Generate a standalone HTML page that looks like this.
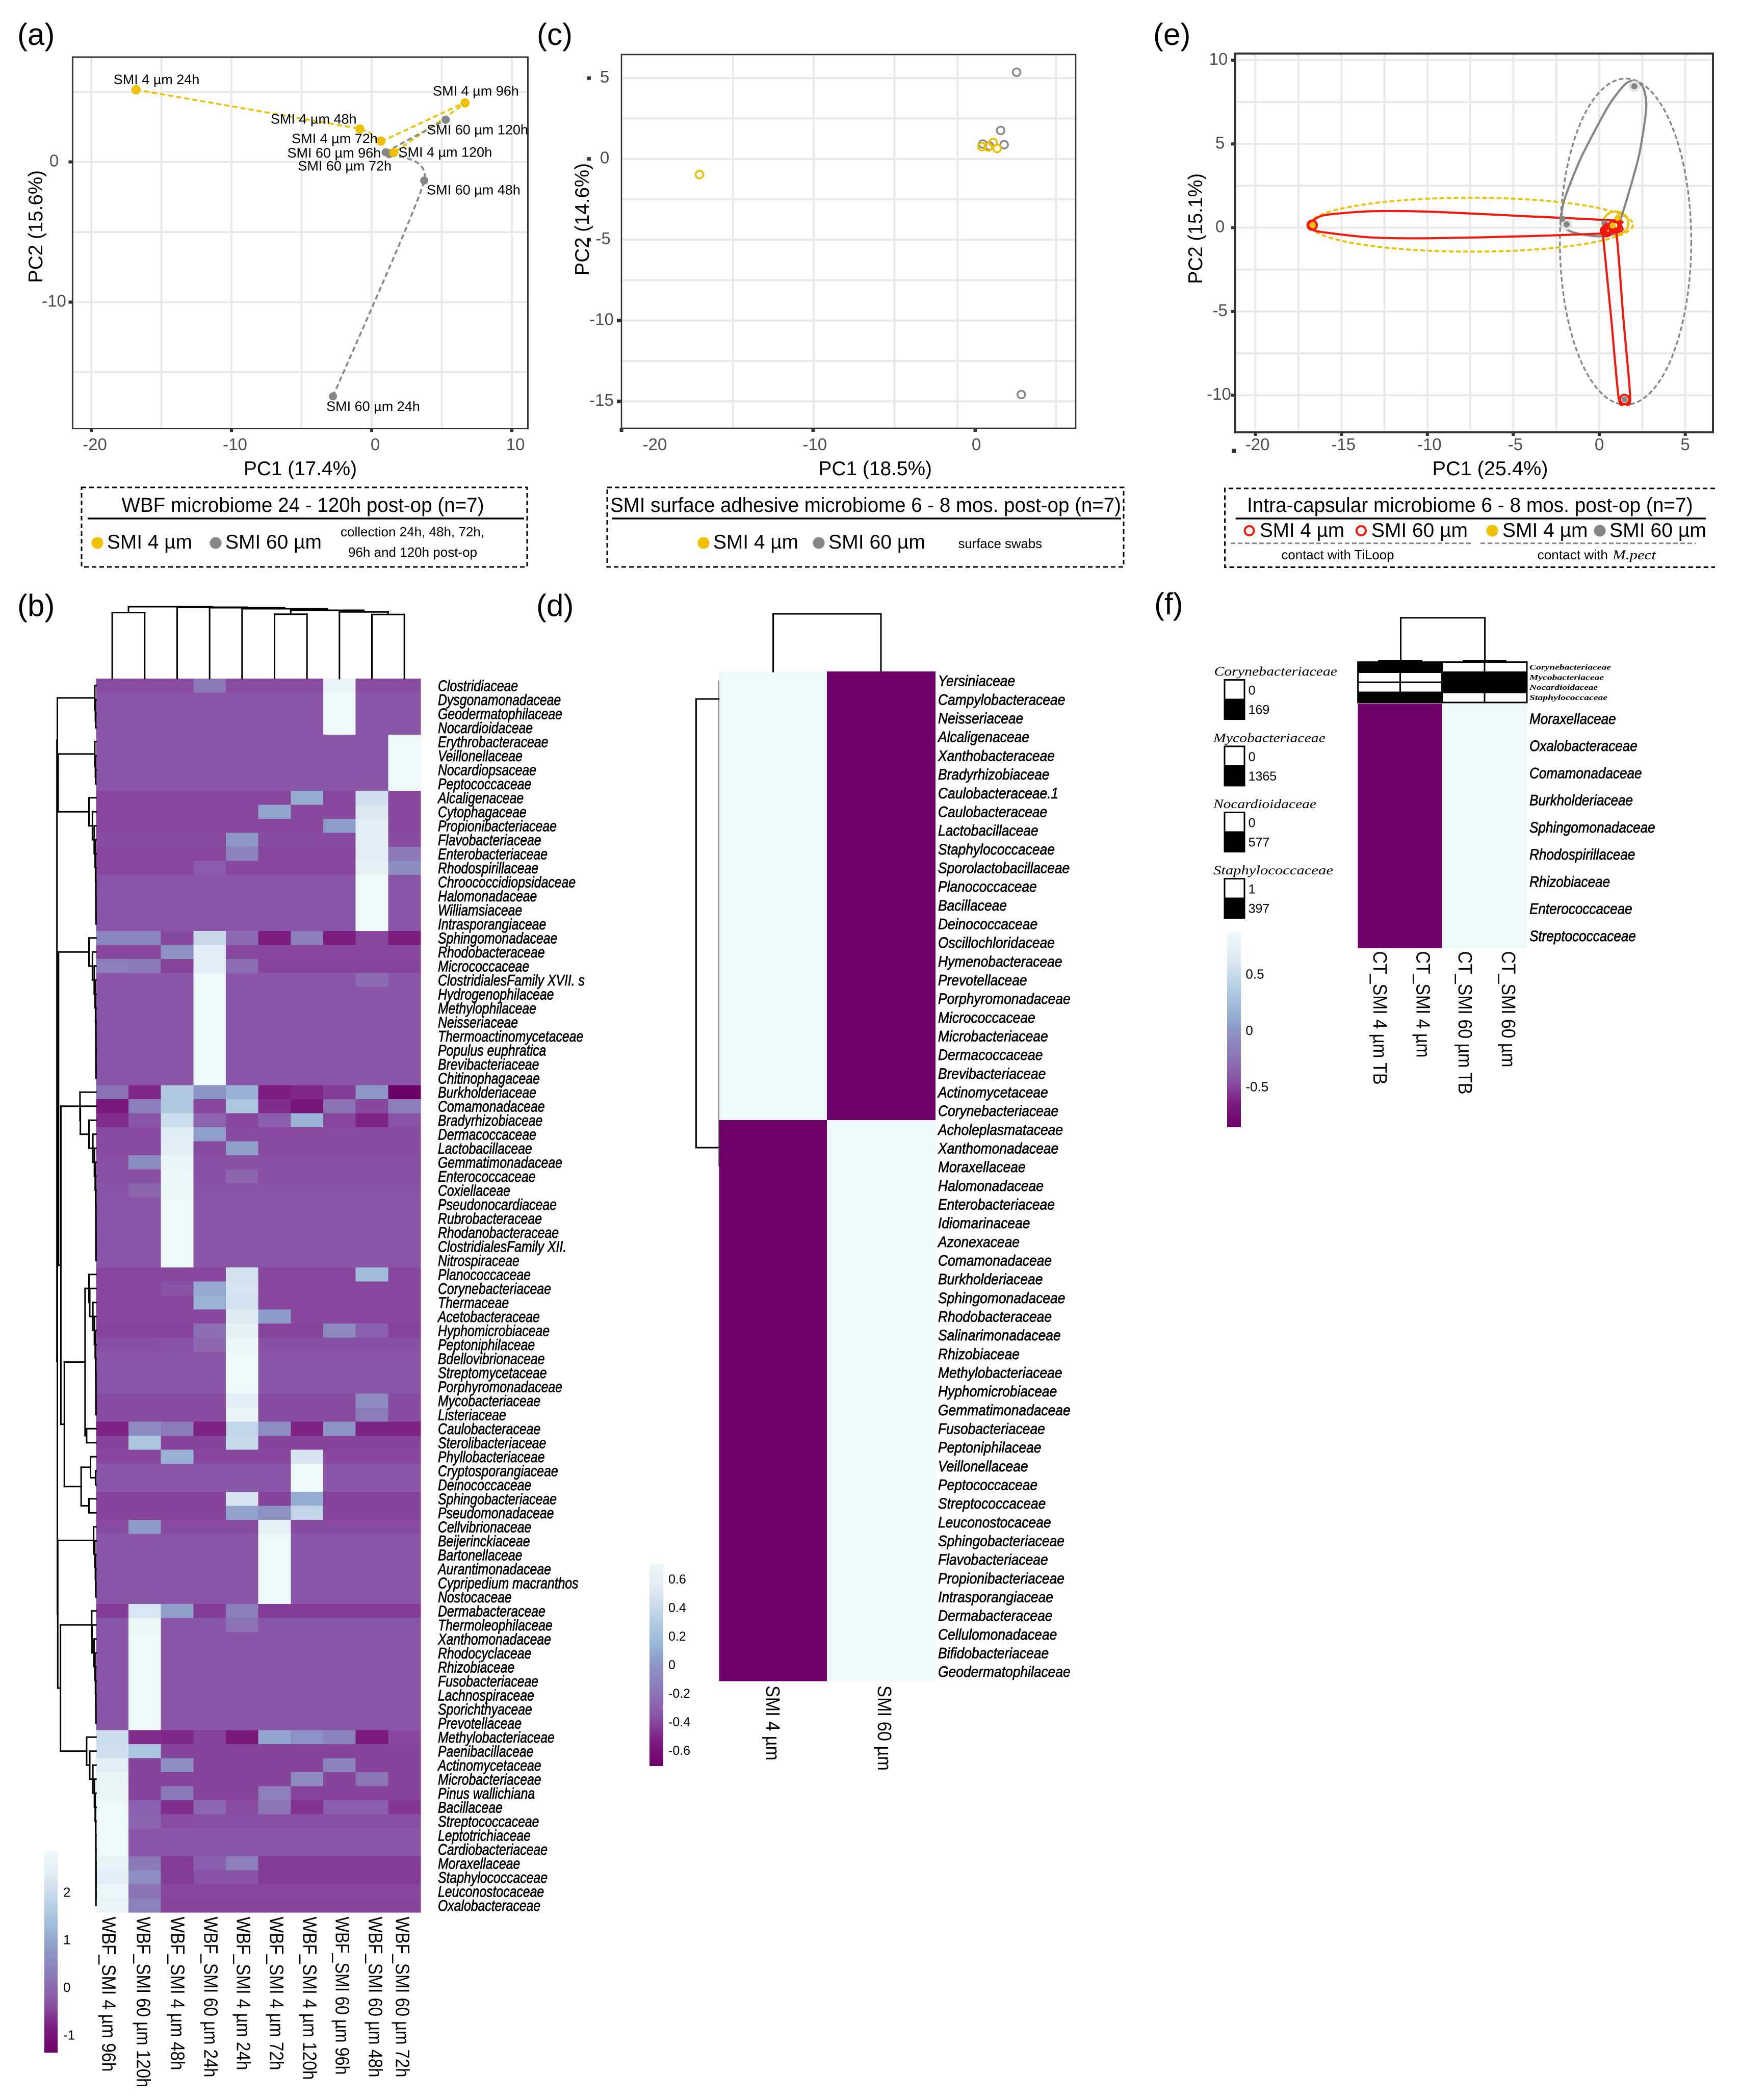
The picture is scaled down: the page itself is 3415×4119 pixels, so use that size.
<!DOCTYPE html>
<html lang="en">
<head>
<meta charset="utf-8">
<title>Microbiome PCA and heatmap figure</title>
<style>
html,body{margin:0;padding:0;background:#fff;}
svg{display:block;}
text{font-family:"Liberation Sans",sans-serif;}
</style>
</head>
<body>
<svg id="figure" xmlns="http://www.w3.org/2000/svg" width="3415" height="4119" viewBox="0 0 3415 4119">
<rect x="0" y="0" width="3415" height="4119" fill="#fff"/>
</svg>
<script>
/* ---------- PANEL A DATA ---------- */
const aYellowNames = ["SMI 4 µm 24h","SMI 4 µm 48h","SMI 4 µm 72h","SMI 4 µm 96h","SMI 4 µm 120h"];
const aYellowPC1 = [-16.81,-0.84,0.66,6.66,1.58];
const aYellowPC2 = [5.15,2.35,1.49,4.21,0.67];
const aGrayNames = ["SMI 60 µm 24h","SMI 60 µm 48h","SMI 60 µm 72h","SMI 60 µm 96h","SMI 60 µm 120h"];
const aGrayPC1 = [-2.76,3.75,1.25,1.0,5.28];
const aGrayPC2 = [-16.72,-1.33,0.56,0.69,3.01];
const aTicksX = [-20,-10,0,10];
const aTicksY = [0,-10];
const aGridX = [-20,-15,-10,-5,0,5,10];
const aGridY = [5,0,-5,-10,-15];

/* ---------- PANEL C DATA ---------- */
const cYellowPC1 = [-17.08,0.41,1.11,1.35,0.8];
const cYellowPC2 = [-0.97,0.76,1.02,0.65,0.74];
const cGrayPC1 = [2.56,2.85,1.57,1.79,0.87,0.46];
const cGrayPC2 = [5.36,-14.58,1.76,0.88,0.81,0.92];
const cTicksX = [-20,-10,0];
const cTicksY = [5,0,-5,-10,-15];
const cGridX = [-15,-10,-5,-1.1,5];
const cGridY = [5,2.5,0,-2.5,-5,-7.5,-10,-12.5,-15];

/* ---------- PANEL E DATA ---------- */
const eTicksX = [-20,-15,-10,-5,0,5];
const eTicksY = [10,5,0,-5,-10];
const eGridX = [-20,-17.5,-15,-12.5,-10,-7.5,-5,-2.5,0,2.5,5];
const eGridY = [10,7.5,5,2.5,0,-2.5,-5,-7.5,-10];
const eRedPC1 = [-16.7,1.47,0.89,0.4,0.55,0.95];
const eRedPC2 = [0.15,-10.25,0.13,-0.2,-0.07,0.1];
const eYellowPC1 = [-16.68,0.78,1.07];
const eYellowPC2 = [0.15,0.13,0.58];
const eGrayPC1 = [2.04,-1.9,0.3,1.47,-2.15];
const eGrayPC2 = [8.44,0.2,0.27,-10.25,0.53];
const eHullRedA = [[-16.93,0.16],[-16.67,0.42],[-15.93,0.76],[-13.27,0.98],[-9.93,0.96],[-4.38,0.69],[0.96,0.42],[1.22,0.2],[0.96,-0.29],[-4.38,-0.51],[-9.93,-0.63],[-13.27,-0.58],[-15.93,-0.29],[-16.67,-0.13]];
const eHullRedB = [[0.22,-0.47],[0.69,-5.38],[1.13,-10.18],[1.47,-10.51],[1.8,-10.18],[1.4,-5.38],[1.0,-0.36],[0.62,-0.07],[0.24,-0.2]];
const eHullGray = [[-2.22,0.42],[-2.16,0.09],[-1.49,-0.29],[-0.16,-0.51],[0.84,-0.36],[1.29,0.65],[2.29,4.22],[2.73,7.12],[2.56,8.35],[2.07,8.75],[1.51,8.57],[0.51,7.23],[-1.04,4.22],[-2.04,1.65]];
const eEllipseGray = [1.53,-0.83,3.82,9.73];
const eEllipseYellow = [-7.44,0.18,9.4,1.61];
const eEllipseSmall = [0.96,0.27,0.73,0.7];

/* ---------- PANEL B DATA ---------- */
const bColumns = ["WBF_SMI 4 µm 96h","WBF_SMI 60 µm 120h","WBF_SMI 4 µm 48h","WBF_SMI 60 µm 24h","WBF_SMI 4 µm 24h","WBF_SMI 4 µm 72h","WBF_SMI 4 µm 120h","WBF_SMI 60 µm 96h","WBF_SMI 60 µm 48h","WBF_SMI 60 µm 72h"];
const bRows = ["Clostridiaceae","Dysgonamonadaceae","Geodermatophilaceae","Nocardioidaceae","Erythrobacteraceae","Veillonellaceae","Nocardiopsaceae","Peptococcaceae","Alcaligenaceae","Cytophagaceae","Propionibacteriaceae","Flavobacteriaceae","Enterobacteriaceae","Rhodospirillaceae","Chroococcidiopsidaceae","Halomonadaceae","Williamsiaceae","Intrasporangiaceae","Sphingomonadaceae","Rhodobacteraceae","Micrococcaceae","ClostridialesFamily XVII. s","Hydrogenophilaceae","Methylophilaceae","Neisseriaceae","Thermoactinomycetaceae","Populus euphratica","Brevibacteriaceae","Chitinophagaceae","Burkholderiaceae","Comamonadaceae","Bradyrhizobiaceae","Dermacoccaceae","Lactobacillaceae","Gemmatimonadaceae","Enterococcaceae","Coxiellaceae","Pseudonocardiaceae","Rubrobacteraceae","Rhodanobacteraceae","ClostridialesFamily XII.","Nitrospiraceae","Planococcaceae","Corynebacteriaceae","Thermaceae","Acetobacteraceae","Hyphomicrobiaceae","Peptoniphilaceae","Bdellovibrionaceae","Streptomycetaceae","Porphyromonadaceae","Mycobacteriaceae","Listeriaceae","Caulobacteraceae","Sterolibacteriaceae","Phyllobacteriaceae","Cryptosporangiaceae","Deinococcaceae","Sphingobacteriaceae","Pseudomonadaceae","Cellvibrionaceae","Beijerinckiaceae","Bartonellaceae","Aurantimonadaceae","Cypripedium macranthos","Nostocaceae","Dermabacteraceae","Thermoleophilaceae","Xanthomonadaceae","Rhodocyclaceae","Rhizobiaceae","Fusobacteriaceae","Lachnospiraceae","Sporichthyaceae","Prevotellaceae","Methylobacteriaceae","Paenibacillaceae","Actinomycetaceae","Microbacteriaceae","Pinus wallichiana","Bacillaceae","Streptococcaceae","Leptotrichiaceae","Cardiobacteriaceae","Moraxellaceae","Staphylococcaceae","Leuconostocaceae","Oxalobacteraceae"];
const b = -0.32, H = 2.86, d = -0.45, e5 = -0.5;
const bValues = [
[-.4,-.4,-.4,.2,-.4,-.4,-.4,2.7,-.4,-.4],
[b,b,b,b,b,b,b,H,b,b],
[b,b,b,b,b,b,b,H,b,b],
[b,b,b,b,b,b,b,H,b,b],
[b,b,b,b,b,b,b,b,b,H],
[b,b,b,b,b,b,b,b,b,H],
[b,b,b,b,b,b,b,b,b,H],
[b,b,b,b,b,b,b,b,b,H],
[d,d,d,d,d,d,1.05,d,2.05,d],
[d,d,d,d,d,.95,d,d,2.25,d],
[d,d,d,d,d,d,d,.8,2.4,d],
[-.42,-.42,-.42,-.42,.75,-.42,-.42,-.42,2.45,-.42],
[d,d,d,d,.35,d,d,d,2.45,.2],
[d,d,d,-.25,d,d,d,d,2.5,.55],
[b,b,b,b,b,b,b,b,H,b],
[b,b,b,b,b,b,b,b,H,b],
[b,b,b,b,b,b,b,b,H,b],
[b,b,b,b,b,b,b,b,H,b],
[.45,.45,d,1.95,0,-.85,.3,-.85,d,-.85],
[d,d,.65,2.35,d,d,d,d,d,d],
[.3,.2,e5,2.4,.05,e5,e5,e5,e5,e5],
[b,b,b,2.85,b,b,b,b,0,b],
[b,b,b,H,b,b,b,b,b,b],
[b,b,b,H,b,b,b,b,b,b],
[b,b,b,H,b,b,b,b,b,b],
[b,b,b,H,b,b,b,b,b,b],
[b,b,b,H,b,b,b,b,b,b],
[b,b,b,H,b,b,b,b,b,b],
[b,b,b,H,b,b,b,b,b,b],
[.1,-.75,1.55,.7,1.1,-.85,-.75,-.55,.75,-1.38],
[-.95,.3,1.55,d,1.5,-.7,-1,.1,d,.3],
[-.7,-.3,2,-.1,d,-.2,1.15,d,-.8,-.35],
[-.42,-.42,2.35,.85,-.42,-.42,-.42,-.42,-.42,-.42],
[-.42,-.42,2.4,-.42,.85,-.42,-.42,-.42,-.42,-.42],
[-.38,.55,2.7,-.38,-.38,-.38,-.38,-.38,-.38,-.38],
[-.38,-.38,2.75,-.38,-.1,-.38,-.38,-.38,-.38,-.38],
[-.34,-.1,2.8,-.34,-.34,-.34,-.34,-.34,-.34,-.34],
[b,b,H,b,b,b,b,b,b,b],
[b,b,H,b,b,b,b,b,b,b],
[b,b,H,b,b,b,b,b,b,b],
[b,b,H,b,b,b,b,b,b,b],
[b,b,H,b,b,b,b,b,b,b],
[d,d,d,d,2.1,d,d,d,1.3,d],
[d,d,-.35,1,2.15,d,d,d,d,d],
[d,d,d,1.1,2.1,d,d,d,d,d],
[d,d,d,d,2.3,.8,d,d,d,d],
[e5,e5,e5,.05,2.5,e5,e5,.5,-.15,e5],
[-.38,-.38,-.35,-.05,2.75,-.38,-.38,-.38,-.38,-.38],
[b,b,b,b,H,b,b,b,b,b],
[b,b,b,b,H,b,b,b,b,b],
[b,b,b,b,H,b,b,b,b,b],
[-.42,-.42,-.42,-.42,2.4,-.42,-.42,-.42,.55,-.42],
[-.42,-.42,-.42,-.42,2.7,-.42,-.42,-.42,.25,-.42],
[-.8,.55,.25,-.8,1.85,.6,-.8,.7,-.8,-.8],
[e5,1.5,e5,e5,1.95,e5,e5,e5,e5,e5],
[d,d,1.1,d,d,d,2.15,d,d,d],
[b,b,b,b,b,b,H,b,b,b],
[b,b,b,b,b,b,H,b,b,b],
[e5,e5,e5,e5,2.15,e5,1.05,e5,e5,e5],
[e5,e5,e5,e5,.9,.65,1.85,e5,e5,e5],
[-.42,.8,-.42,-.42,-.42,2.5,-.42,-.42,-.42,-.42],
[b,b,b,b,b,H,b,b,b,b],
[b,b,b,b,b,H,b,b,b,b],
[b,b,b,b,b,H,b,b,b,b],
[b,b,b,b,b,H,b,b,b,b],
[b,b,b,b,b,H,b,b,b,b],
[-.55,2.2,.85,-.55,.3,-.55,-.55,-.55,-.55,-.55],
[b,2.8,b,b,.1,b,b,b,b,b],
[b,H,b,b,b,b,b,b,b,b],
[b,H,b,b,b,b,b,b,b,b],
[b,H,b,b,b,b,b,b,b,b],
[b,H,b,b,b,b,b,b,b,b],
[b,H,b,b,b,b,b,b,b,b],
[b,H,b,b,b,b,b,b,b,b],
[b,H,b,b,b,b,b,b,b,b],
[2,-.7,-.75,e5,-.95,.95,.65,.4,-.9,d],
[2.05,1.45,e5,e5,e5,e5,e5,e5,e5,e5],
[2.4,e5,.6,e5,e5,e5,e5,.4,e5,e5],
[2.65,e5,e5,e5,e5,e5,.55,e5,.15,e5],
[2.7,e5,.2,e5,e5,.3,e5,e5,e5,e5],
[2.85,-.15,-.7,-.05,-.4,.15,-.65,-.2,-.2,-.6],
[H,-.1,-.4,-.38,-.38,-.38,-.38,-.38,-.38,-.38],
[H,b,b,b,b,b,b,b,b,b],
[H,b,b,b,b,b,b,b,b,b],
[2.6,.2,-.55,-.2,.3,-.55,-.55,-.55,-.55,-.55],
[2.4,.6,-.55,-.35,-.35,-.55,-.55,-.55,-.55,-.55],
[2.75,.1,d,d,d,d,d,d,d,d],
[2.7,.35,-.48,-.48,-.48,-.48,-.48,-.48,-.48,-.48]
];
const bColorTicks = [2,1,0,-1];

/* ---------- PANEL D DATA ---------- */
const dColumns = ["SMI 4 µm","SMI 60 µm"];
const dRows = ["Yersiniaceae","Campylobacteraceae","Neisseriaceae","Alcaligenaceae","Xanthobacteraceae","Bradyrhizobiaceae","Caulobacteraceae.1","Caulobacteraceae","Lactobacillaceae","Staphylococcaceae","Sporolactobacillaceae","Planococcaceae","Bacillaceae","Deinococcaceae","Oscillochloridaceae","Hymenobacteraceae","Prevotellaceae","Porphyromonadaceae","Micrococcaceae","Microbacteriaceae","Dermacoccaceae","Brevibacteriaceae","Actinomycetaceae","Corynebacteriaceae","Acholeplasmataceae","Xanthomonadaceae","Moraxellaceae","Halomonadaceae","Enterobacteriaceae","Idiomarinaceae","Azonexaceae","Comamonadaceae","Burkholderiaceae","Sphingomonadaceae","Rhodobacteraceae","Salinarimonadaceae","Rhizobiaceae","Methylobacteriaceae","Hyphomicrobiaceae","Gemmatimonadaceae","Fusobacteriaceae","Peptoniphilaceae","Veillonellaceae","Peptococcaceae","Streptococcaceae","Leuconostocaceae","Sphingobacteriaceae","Flavobacteriaceae","Propionibacteriaceae","Intrasporangiaceae","Dermabacteraceae","Cellulomonadaceae","Bifidobacteriaceae","Geodermatophilaceae"];
const dUp = [.707,-.707], dDown = [-.707,.707];
const dValues = [dUp,dUp,dUp,dUp,dUp,dUp,dUp,dUp,dUp,dUp,dUp,dUp,dUp,dUp,dUp,dUp,dUp,dUp,dUp,dUp,dUp,dUp,dUp,dUp,dDown,dDown,dDown,dDown,dDown,dDown,dDown,dDown,dDown,dDown,dDown,dDown,dDown,dDown,dDown,dDown,dDown,dDown,dDown,dDown,dDown,dDown,dDown,dDown,dDown,dDown,dDown,dDown,dDown,dDown];
const dColorTicks = ["0.6","0.4","0.2","0","-0.2","-0.4","-0.6"];

/* ---------- PANEL F DATA ---------- */
const fColumns = ["CT_SMI 4 µm TB","CT_SMI 4 µm","CT_SMI 60 µm TB","CT_SMI 60 µm"];
const fRows = ["Moraxellaceae","Oxalobacteraceae","Comamonadaceae","Burkholderiaceae","Sphingomonadaceae","Rhodospirillaceae","Rhizobiaceae","Enterococcaceae","Streptococcaceae"];
const fLow = [-.866,-.866,.866,.866];
const fValues = [fLow,fLow,fLow,fLow,fLow,fLow,fLow,fLow,fLow];
const fAnnotNames = ["Corynebacteriaceae","Mycobacteriaceae","Nocardioidaceae","Staphylococcaceae"];
const fAnnotValues = [[1,1,0,0],[0,0,1,1],[0,0,1,1],[1,1,0,0]];
const fAnnotLow = ["0","0","0","1"];
const fAnnotHigh = ["169","1365","577","397"];
const fColorTicks = ["0.5","0","-0.5"];

/* ---------- HELPERS ---------- */
const NS = "http://www.w3.org/2000/svg";
const svg = document.getElementById("figure");
function mk(tag, attrs, parent){
  const el = document.createElementNS(NS, tag);
  for (const k in attrs) el.setAttribute(k, attrs[k]);
  (parent || svg).appendChild(el);
  return el;
}
function T(p, s, x, y, o){
  o = o || {};
  const a = {"font-size": o.size || 27, fill: o.fill || "#000"};
  let tr = "translate(" + x + " " + y + ")";
  if (o.rot) tr += " rotate(" + o.rot + ")";
  if (o.sx) tr += " scale(" + o.sx + " 1)";
  a.transform = tr;
  if (o.anchor) a["text-anchor"] = o.anchor;
  if (o.italic) a["font-style"] = "italic";
  if (o.weight) a["font-weight"] = o.weight;
  if (o.family) a["style"] = "font-family:" + o.family;
  if (o.stroke) { a.stroke = o.fill || "#000"; a["stroke-width"] = o.stroke; }
  if (o.len) { a.textLength = o.len; a.lengthAdjust = "spacingAndGlyphs"; }
  const el = mk("text", a, p);
  el.textContent = s;
  return el;
}
function group(parent, name){
  const g = mk("g", {}, parent);
  
  
  return g;
}
function smooth(pts, closed, k){
  k = k === undefined ? 1/6 : k;
  const n = pts.length;
  const at = function(i){ return closed ? pts[(i + n) % n] : pts[Math.max(0, Math.min(n - 1, i))]; };
  let s = "M" + pts[0][0].toFixed(1) + " " + pts[0][1].toFixed(1);
  const last = closed ? n : n - 1;
  for (let i = 0; i < last; i++){
    const p0 = at(i-1), p1 = at(i), p2 = at(i+1), p3 = at(i+2);
    const c1x = p1[0] + (p2[0]-p0[0])*k, c1y = p1[1] + (p2[1]-p0[1])*k;
    const c2x = p2[0] - (p3[0]-p1[0])*k, c2y = p2[1] - (p3[1]-p1[1])*k;
    s += " C" + c1x.toFixed(1) + " " + c1y.toFixed(1) + " " + c2x.toFixed(1) + " " + c2y.toFixed(1) + " " + p2[0].toFixed(1) + " " + p2[1].toFixed(1);
  }
  return s + (closed ? " Z" : "");
}
function hline(p, x1, x2, y, color, w, dash){
  const a = {x1:x1, x2:x2, y1:y, y2:y, stroke:color, "stroke-width":w};
  if (dash) a["stroke-dasharray"] = dash;
  return mk("line", a, p);
}
function vline(p, x, y1, y2, color, w, dash){
  const a = {x1:x, x2:x, y1:y1, y2:y2, stroke:color, "stroke-width":w};
  if (dash) a["stroke-dasharray"] = dash;
  return mk("line", a, p);
}
function frame(p, box, sx, sy, gx, gy, w){
  gx.forEach(function(v){
    const el = vline(p, sx(v), box[1], box[3], "#e9e9e9", 3.8);
    
    
  });
  gy.forEach(function(v){
    const el = hline(p, box[0], box[2], sy(v), "#e9e9e9", 3.8);
    
    
  });
}
function border(p, box, w){
  const el = mk("rect", {x:box[0], y:box[1], width:box[2]-box[0], height:box[3]-box[1], fill:"none", stroke:"#333", "stroke-width":w}, p);
  
  
}
function tickLabel(p, s, x, y, anchor){
  const el = T(p, s, x, y, {size:33, fill:"#4d4d4d", anchor:anchor || "middle"});
  
  
}
function tickMark(p, x, y, w, h){
  const el = mk("rect", {x:x, y:y, width:w, height:h, fill:"#333"}, p);
  
  
}
function axisTitle(p, s, x, y, len, rot){
  const o = {size:39, len:len};
  if (rot) o.rot = rot;
  const el = T(p, s, x, y, o);
  
  
}
function panelLetter(s, x, y){
  const el = T(svg, s, x, y, {size:60});
  
  
}
function dot(p, x, y, r, color){
  const el = mk("circle", {cx:x, cy:y, r:r, fill:color}, p);
  
  
  return el;
}
function ring(p, x, y, r, color, w){
  const el = mk("circle", {cx:x, cy:y, r:r, fill:"none", stroke:color, "stroke-width":w}, p);
  
  
  return el;
}
function legendText(p, s, x, y, len, size){
  const el = T(p, s, x, y, {size:size || 39, len:len});
  
  
}
function legendRule(p, x1, x2, y){
  const el = hline(p, x1, x2, y, "#000", 3.6);
  
  
}

const YEL = "#EFC000", GRY = "#868686", RED = "#F21A0C";

/* colour ramp */
const rampPos = [0,.125,.25,.375,.5,.625,.75,.875,1];
const rampCol = [[108,0,104],[125,29,128],[138,86,167],[139,121,183],[140,150,198],[158,188,218],[191,211,230],[224,236,244],[237,248,251]];
function ramp(t){
  t = Math.max(0, Math.min(1, t));
  let i = 0;
  while (i < rampPos.length - 2 && t > rampPos[i+1]) i++;
  const f = (t - rampPos[i]) / (rampPos[i+1] - rampPos[i]);
  const c = rampCol[i].map(function(v, j){ return Math.round(v + (rampCol[i+1][j] - v) * f); });
  return "rgb(" + c.join(",") + ")";
}
const defs = mk("defs", {}, svg);
const grad = mk("linearGradient", {id:"buPuRamp", x1:0, y1:1, x2:0, y2:0}, defs);
rampPos.forEach(function(p, i){
  mk("stop", {offset:p, "stop-color":"rgb(" + rampCol[i].join(",") + ")"}, grad);
});
const clip = mk("clipPath", {id:"labelClip"}, defs);
mk("rect", {x:0, y:0, width:3415, height:4092}, clip);

function colorBar(p, x, y, w, h){
  const el = mk("rect", {x:x, y:y, width:w, height:h, fill:"url(#buPuRamp)"}, p);
  
  
}
function colorLabel(p, s, x, y, size){
  const el = T(p, s, x, y, {size:size});
  
  
}
function heatCell(p, x, y, w, h, color){
  const el = mk("rect", {x:x, y:y, width:w, height:h, fill:color, "shape-rendering":"crispEdges"}, p);
  
  
}
function rowLabel(p, s, x, y, size, sx){
  const el = T(p, s, x, y, {size:size, sx:sx, italic:true, stroke:0.75});
  
  
}
function colLabel(p, s, x, y, len){
  const el = T(p, s, x, y, {size:38, rot:90, len:len});
  
  
}
function dendroLine(p, x1, y1, x2, y2, w){
  const el = mk("line", {x1:x1, y1:y1, x2:x2, y2:y2, stroke:"#000", "stroke-width":w || 3, "stroke-linecap":"square"}, p);
  
  
}

/* ---------- PANEL A ---------- */
panelLetter("(a)", 34, 88);
(function(){
  const g = group(svg, "panel-a-pca");
  const box = [142.4, 112, 1035.4, 840.5];
  const sx = function(v){ return 729 + 27.5 * v; };
  const sy = function(v){ return 317.6 - 27.5 * v; };
  frame(g, box, sx, sy, aGridX, aGridY);
  aTicksX.forEach(function(v){
    tickMark(g, sx(v) - 3, box[3], 6, 7);
    tickLabel(g, String(v), sx(v) + 7, 883);
  });
  aTicksY.forEach(function(v){
    tickMark(g, box[0] - 8, sy(v) - 3, 8, 6);
    tickLabel(g, String(v), 106, sy(v) + 9);
  });
  const yPts = aYellowPC1.map(function(v, i){ return [sx(v), sy(aYellowPC2[i])]; });
  const gPts = aGrayPC1.map(function(v, i){ return [sx(v), sy(aGrayPC2[i])]; });
  const yLine = mk("path", {d:smooth(yPts, false, .07), fill:"none", stroke:YEL, "stroke-width":3.6, "stroke-dasharray":"10 6"}, g);
  
  
  const gLine = mk("path", {d:smooth(gPts, false, .1), fill:"none", stroke:GRY, "stroke-width":3.6, "stroke-dasharray":"10 6"}, g);
  
  
  const yOff = [[-44,-20.5],[-175,-20],[-175,-5],[-63,-24],[9,-1]];
  const gOff = [[-13,19],[5,18],[-179,23],[-193,1],[-37,19]];
  function ptLabel(s, p, o){
    const el = T(g, s, p[0] + o[0], p[1] + o[1] + 9.5, {size:27});
    
    
  }
  gPts.forEach(function(p, i){ dot(g, p[0], p[1], 8, GRY); ptLabel(aGrayNames[i], p, gOff[i]); });
  yPts.forEach(function(p, i){ dot(g, p[0], p[1], 9, YEL); ptLabel(aYellowNames[i], p, yOff[i]); });
  border(g, box, 3);
  axisTitle(g, "PC1 (17.4%)", 478, 932, 222);
  axisTitle(g, "PC2 (15.6%)", 83, 555, 221, -90);
  const lg = group(g, "legend-a");
  const r = mk("rect", {x:160, y:956, width:874, height:156, fill:"none", stroke:"#000", "stroke-width":3, "stroke-dasharray":"9 6"}, lg);
  
  
  legendText(lg, "WBF microbiome 24 - 120h post-op (n=7)", 238.5, 1004, 711, 40);
  legendRule(lg, 172, 1028, 1017);
  dot(lg, 191, 1065, 11.5, YEL);
  legendText(lg, "SMI 4 µm", 210, 1076, 167);
  dot(lg, 423, 1065, 11.5, GRY);
  legendText(lg, "SMI 60 µm", 442, 1076, 189);
  legendText(lg, "collection 24h, 48h, 72h,", 668, 1052, 282, 26);
  legendText(lg, "96h and 120h post-op", 683, 1092, 253, 26);
})();

/* ---------- PANEL C ---------- */
panelLetter("(c)", 1053, 88);
(function(){
  const g = group(svg, "panel-c-pca");
  const box = [1219, 107, 2110, 840];
  const sx = function(v){ return 1913 + 31.68 * v; };
  const sy = function(v){ return 311.7 - 31.7 * v; };
  frame(g, box, sx, sy, cGridX, cGridY);
  cTicksX.forEach(function(v){
    const tx = v === -20 ? box[0] : (v === -10 ? 1595 : sx(v));
    tickMark(g, tx - 3.5, box[3], 7, 7);
    tickLabel(g, String(v), sx(v) + (v === -20 ? 5 : 2), 883);
  });
  cTicksY.forEach(function(v){
    tickMark(g, (v > -10 ? 1155 : 1214) - 4, sy(v) - 3.5, 8, 7);
    tickLabel(g, String(v), v > -5 ? 1186 : (v === -5 ? 1183 : 1180), sy(v) + 9);
  });
  cGrayPC1.forEach(function(v, i){ ring(g, sx(v), sy(cGrayPC2[i]), 7.5, GRY, 3.4); });
  cYellowPC1.forEach(function(v, i){ ring(g, sx(v), sy(cYellowPC2[i]), 7.5, YEL, 3.6); });
  border(g, box, 2.6);
  axisTitle(g, "PC1 (18.5%)", 1605.5, 932, 222.5);
  axisTitle(g, "PC2 (14.6%)", 1155, 540.5, 220.5, -90);
  const lg = group(g, "legend-c");
  const r = mk("rect", {x:1191, y:956, width:1013, height:156, fill:"none", stroke:"#000", "stroke-width":3, "stroke-dasharray":"9 6"}, lg);
  
  
  legendText(lg, "SMI surface adhesive microbiome 6 - 8 mos. post-op (n=7)", 1197, 1004, 1002, 40);
  legendRule(lg, 1200, 2199, 1017);
  dot(lg, 1380, 1065, 11.5, YEL);
  legendText(lg, "SMI 4 µm", 1399, 1076, 167);
  dot(lg, 1606, 1065, 11.5, GRY);
  legendText(lg, "SMI 60 µm", 1625, 1076, 190);
  legendText(lg, "surface swabs", 1879.5, 1075, 164.5, 26);
})();

/* ---------- PANEL E ---------- */
panelLetter("(e)", 2262, 88);
(function(){
  const g = group(svg, "panel-e-pca");
  const box = [2423, 105, 3360, 848];
  const sx = function(v){ return 3137 + 33.72 * v; };
  const sy = function(v){ return 446.6 - 32.86 * v; };
  frame(g, box, sx, sy, eGridX, eGridY);
  eTicksX.forEach(function(v){
    tickMark(g, sx(v) - 3, box[3], 6, 7);
    tickLabel(g, String(v), sx(v) + (v < 0 ? 4 : 0), 883);
  });
  eTicksY.forEach(function(v){
    tickMark(g, box[0] - 8, sy(v) - 3, 8, 6);
    tickLabel(g, String(v), v === 10 ? 2390 : (v === -10 ? 2391 : 2393), sy(v) + 9);
  });
  tickMark(g, 2416, 880, 9, 9);
  function ell(a, color, w, dash, name){
    const el = mk("ellipse", {cx:sx(a[0]), cy:sy(a[1]), rx:33.72*a[2], ry:32.86*a[3], fill:"none", stroke:color, "stroke-width":w, "stroke-dasharray":dash}, g);
    
    
  }
  ell(eEllipseGray, GRY, 3.4, "9 5", "smi-60um-ellipse");
  ell(eEllipseYellow, YEL, 3.8, "9 5", "smi-4um-ellipse");
  ell(eEllipseSmall, YEL, 4, "none", "smi-4um-small-ellipse");
  function hull(a, color, name){
    const pts = a.map(function(q){ return [sx(q[0]), sy(q[1])]; });
    const el = mk("path", {d:smooth(pts, true, 1/8), fill:"none", stroke:color, "stroke-width":4.2}, g);
    
    
  }
  hull(eHullGray, GRY, "gray-hull");
  hull(eHullRedA, RED, "red-hull-horizontal");
  hull(eHullRedB, RED, "red-hull-vertical");
  eGrayPC1.forEach(function(v, i){
    if (i < 2) dot(g, sx(v), sy(eGrayPC2[i]), 11, "#e4e4e4");
    dot(g, sx(v), sy(eGrayPC2[i]), 6, GRY);
  });
  eRedPC1.forEach(function(v, i){ ring(g, sx(v), sy(eRedPC2[i]), 9, RED, i > 1 ? 7 : 4.4); });
  eYellowPC1.forEach(function(v, i){ dot(g, sx(v), sy(eYellowPC2[i]), 6, YEL); });
  dot(g, sx(eGrayPC1[3]), sy(eGrayPC2[3]), 5.5, GRY);
  border(g, box, 4);
  axisTitle(g, "PC1 (25.4%)", 2809.5, 932, 227);
  axisTitle(g, "PC2 (15.1%)", 2358, 557, 217, -90);
  const lg = group(g, "legend-e");
  const r = mk("path", {d:"M3364 958 H2402.6 V1112.5 H3364", fill:"none", stroke:"#000", "stroke-width":3, "stroke-dasharray":"9 6"}, lg);
  
  
  legendText(lg, "Intra-capsular microbiome 6 - 8 mos. post-op (n=7)", 2446, 1004, 874.6, 40);
  legendRule(lg, 2423.6, 3346, 1017);
  ring(lg, 2450.6, 1041, 9, RED, 4);
  legendText(lg, "SMI 4 µm", 2471, 1053, 166);
  ring(lg, 2670, 1041, 9, RED, 4);
  legendText(lg, "SMI 60 µm", 2690, 1053, 189);
  dot(lg, 2927, 1041, 11.5, YEL);
  legendText(lg, "SMI 4 µm", 2947, 1053, 167.5);
  dot(lg, 3138, 1041, 11.5, GRY);
  legendText(lg, "SMI 60 µm", 3157, 1053, 190);
  const d1 = hline(lg, 2414, 2889, 1065.6, GRY, 3, "9 5");
  
  
  const d2 = hline(lg, 2904, 3326, 1065.6, GRY, 3, "9 5");
  
  
  legendText(lg, "contact with TiLoop", 2513.5, 1097, 221, 26);
  legendText(lg, "contact with", 3015.6, 1097, 138.4, 26);
  const mp = T(lg, "M.pect", 3163, 1097, {size:26, italic:true, family:'"Liberation Serif",serif', len:85});
  
  
})();

/* ---------- PANEL B ---------- */
panelLetter("(b)", 34, 1208);
(function(){
  const g = group(svg, "panel-b-heatmap");
  const x0 = 188.3, y0 = 1331, cw = 63.67, rh = 27.5, vMin = -1.38, vMax = 2.86;
  const rowY = function(i){ return y0 + rh * i; };
  const colX = function(j){ return x0 + cw * j; };
  bValues.forEach(function(row, i){
    row.forEach(function(v, j){
      heatCell(g, colX(j), rowY(i), cw + .4, rh + .4, ramp((v - vMin) / (vMax - vMin)));
    });
  });
  bRows.forEach(function(s, i){ rowLabel(g, s, 859, rowY(i) + rh/2 + 10.5, 31, .8); });
  const colCenters = [214,282,349,414,478,543,608,672,737,790];
  const colLens = [304,335,301,315,301,301,320,310,315,315];
  const lg = mk("g", {"clip-path":"url(#labelClip)"}, g);
  
  
  bColumns.forEach(function(s, j){ colLabel(lg, s, colCenters[j] - 13.5, 3759.5, colLens[j]); });

  /* top dendrogram: [height, left, right]; numbers as leaves are 1-based column indices */
  const topTree = [141,[129.5,1,2],[140,3,[139,4,[137,5,[134,[126.3,6,7],[130.8,8,[125.7,9,10]]]]]]];
  function drawTop(n){
    if (typeof n === "number") return {x: colX(n - 1) + cw/2, y: y0};
    const a = drawTop(n[1]), c = drawTop(n[2]), yy = y0 - n[0];
    dendroLine(g, a.x, yy, c.x, yy);
    dendroLine(g, a.x, yy, a.x, a.y);
    dendroLine(g, c.x, yy, c.x, c.y);
    return {x:(a.x + c.x)/2, y:yy};
  }
  drawTop(topTree);

  function chain(a, e, xa, xe){
    if (a === e) return a;
    return [xa, a, chain(a + 1, e, xa + (xe - xa) * .5, xe)];
  }
  const G1 = chain(1,4,243,246), G2 = chain(5,8,243,246), G3 = chain(9,18,228,246);
  const G4 = chain(19,29,228,246);
  const G5 = [205,30,[206,31,[228,32,chain(33,42,238,246)]]];
  const G6 = [218,[228,43,chain(44,53,230,246)],[222,54,55]];
  const G7 = [208,[232,56,[245,57,58]],[228,59,60]];
  const G8 = chain(61,66,240,246);
  const G9 = [235,67,chain(68,75,236,246)];
  const G10 = [222,76,chain(77,88,230,246)];
  const tree = [146,[147,G1,[149,G2,G3]],[147,[150,G4,[156,G5,[165,G6,G7]]],[148,G8,[155,G9,G10]]]];
  function drawLeft(n){
    if (typeof n === "number") return {x:x0, y:rowY(n - 1) + rh/2};
    const px = n[0] / 1.3067;
    const a = drawLeft(n[1]), c = drawLeft(n[2]);
    dendroLine(g, px, a.y, px, c.y);
    dendroLine(g, px, a.y, a.x, a.y);
    dendroLine(g, px, c.y, c.x, c.y);
    return {x:px, y:(a.y + c.y)/2};
  }
  drawLeft(tree);

  colorBar(g, 87, 3630, 26, 396);
  bColorTicks.forEach(function(v){
    const yy = 3898 - 93.3 * v;
    colorLabel(g, String(v), 124, yy + 9, 26);
  });
})();

/* ---------- PANEL D ---------- */
panelLetter("(d)", 1052, 1208);
(function(){
  const g = group(svg, "panel-d-heatmap");
  const y0 = 1317, rh = 36.67, vMin = -.707, vMax = .707;
  const colEdges = [1410.7, 1621.8, 1834.8];
  dValues.forEach(function(row, i){
    row.forEach(function(v, j){
      heatCell(g, colEdges[j], y0 + rh*i, colEdges[j+1] - colEdges[j], rh + .4, ramp((v - vMin)/(vMax - vMin)));
    });
  });
  dRows.forEach(function(s, i){ rowLabel(g, s, 1840, y0 + rh*i + rh/2 + 10.4, 30, .88); });
  colLabel(g, dColumns[0], 1503, 3306, 147);
  colLabel(g, dColumns[1], 1722, 3306, 167);
  dendroLine(g, 1516.6, 1204, 1728, 1204);
  dendroLine(g, 1516.6, 1204, 1516.6, 1317);
  dendroLine(g, 1728, 1204, 1728, 1317);
  dendroLine(g, 1365.4, 1371, 1365.4, 2251);
  dendroLine(g, 1365.4, 1371, 1410, 1371);
  dendroLine(g, 1365.4, 2251, 1410, 2251);
  const th = vline(g, 1410, 1335, 2288, "#555", 1.5);
  
  
  colorBar(g, 1274, 3067, 27, 397);
  dColorTicks.forEach(function(s){
    const yy = 3265 - 280 * parseFloat(s);
    colorLabel(g, s, 1311, yy + 9, 25);
  });
})();

/* ---------- PANEL F ---------- */
panelLetter("(f)", 2264, 1205);
(function(){
  const g = group(svg, "panel-f-heatmap");
  const edges = [2663.7, 2746.5, 2828.7, 2912, 2995];
  const y0 = 1380, rh = 53.22, vMin = -.866, vMax = .866;
  fValues.forEach(function(row, i){
    row.forEach(function(v, j){
      heatCell(g, edges[j], y0 + rh*i, edges[j+1] - edges[j] + .4, rh + .4, ramp((v - vMin)/(vMax - vMin)));
    });
  });
  fRows.forEach(function(s, i){ rowLabel(g, s, 3000, y0 + rh*i + rh/2 + 13.4, 30, .87); });
  const ay0 = 1298.7, ah = 19.8;
  fAnnotValues.forEach(function(row, i){
    row.forEach(function(v, j){
      const el = mk("rect", {x:edges[j], y:ay0 + ah*i, width:edges[j+1]-edges[j], height:ah, fill:v ? "#000" : "#fff", stroke:"#000", "stroke-width":3}, g);
      
      
    });
  });
  const annLens = [160,146,134,153];
  fAnnotNames.forEach(function(s, i){
    const el = T(g, s, 3000, ay0 + ah*i + ah/2 + 5, {size:15, italic:true, weight:"bold", family:'"Liberation Serif",serif', len:annLens[i]});
    
    
  });
  const centers = [2708,2792.6,2875,2960], lens = [262,209,281,228];
  fColumns.forEach(function(s, j){ colLabel(g, s, centers[j] - 14, 1865.5, lens[j]); });
  dendroLine(g, 2747.6, 1211.7, 2912.6, 1211.7);
  dendroLine(g, 2747.6, 1211.7, 2747.6, 1298);
  dendroLine(g, 2912.6, 1211.7, 2912.6, 1298);
  dendroLine(g, 2705, 1297, 2788, 1297, 4);
  dendroLine(g, 2871, 1297, 2953, 1297, 4);

  const tops = [1317,1447.4,1577,1707], titleX = [2381.5,2380,2380,2380], titleLen = [241.5,220,202,235];
  fAnnotNames.forEach(function(s, i){
    const title = T(g, s, titleX[i], tops[i] + 8, {size:25, italic:true, family:'"Liberation Serif",serif', len:titleLen[i]});
    
    
    const by = tops[i] + 16.5;
    const w = mk("rect", {x:2402, y:by, width:39, height:77, fill:"#fff", stroke:"#000", "stroke-width":3}, g);
    
    
    const k = mk("rect", {x:2400.5, y:by + 37, width:42, height:41, fill:"#000"}, g);
    
    
    colorLabel(g, fAnnotLow[i], 2448.6, by + 29, 25);
    colorLabel(g, fAnnotHigh[i], 2448.6, by + 67, 25);
  });

  colorBar(g, 2407, 1829, 27, 382);
  fColorTicks.forEach(function(s){
    const yy = 2021 - 221 * parseFloat(s);
    colorLabel(g, s, 2443.4, yy + 9, 26);
  });
})();
</script>
</body>
</html>
